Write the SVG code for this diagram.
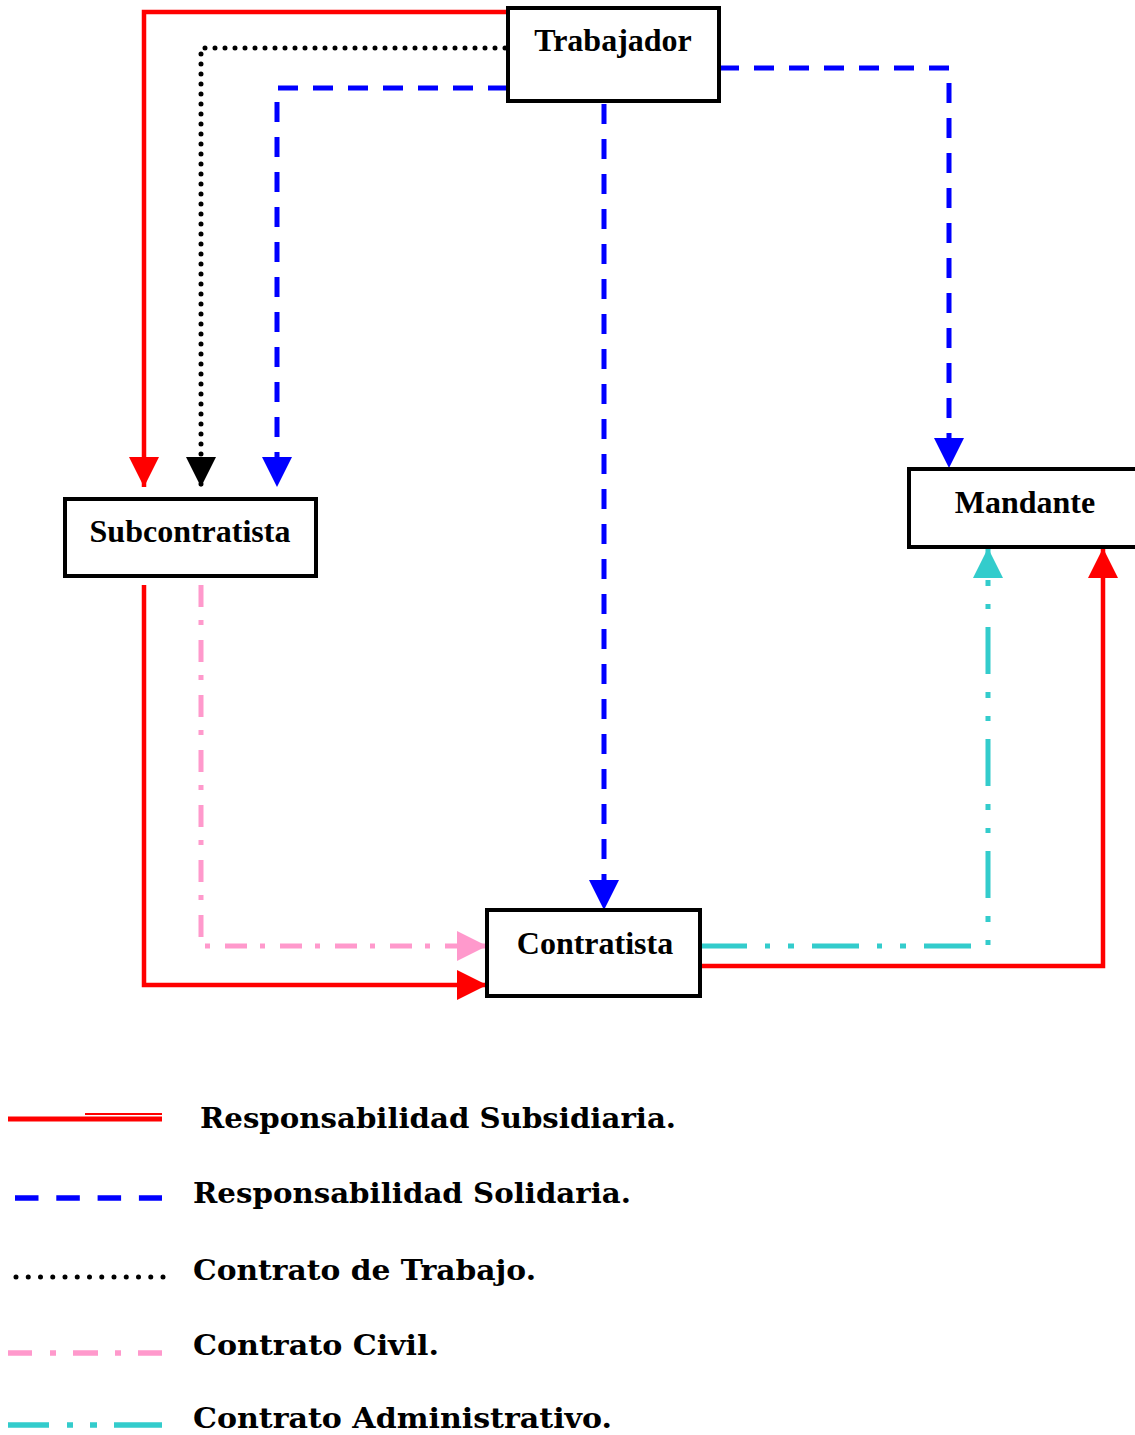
<svg xmlns="http://www.w3.org/2000/svg" width="1135" height="1435" viewBox="0 0 1135 1435">
<style>
.box{fill:#fff;stroke:#000;stroke-width:4}
.lbl{font-family:"Liberation Serif","Times New Roman",serif;font-weight:bold;font-size:32px;fill:#000;text-anchor:middle}
.leg{font-family:"DejaVu Serif","Liberation Serif",serif;font-weight:bold;font-size:27px;fill:#000}
.red{fill:none;stroke:#FF0000;stroke-width:4.5}
.blue{fill:none;stroke:#0000FF;stroke-width:5;stroke-dasharray:20 15}
.dot{fill:none;stroke:#000;stroke-width:5;stroke-linecap:round;stroke-dasharray:0 10}
.pink{fill:none;stroke:#FF99CC;stroke-width:5;stroke-dasharray:22 13 5 15}
.cyan{fill:none;stroke:#33CCCC;stroke-width:5;stroke-dasharray:47 18 5 18 6 18}
</style>
<defs>
<marker id="aRed" markerUnits="userSpaceOnUse" markerWidth="30" markerHeight="30" refX="30" refY="15" orient="auto"><path d="M0,0 L30,15 L0,30 z" fill="#FF0000"/></marker>
<marker id="aBlue" markerUnits="userSpaceOnUse" markerWidth="30" markerHeight="30" refX="30" refY="15" orient="auto"><path d="M0,0 L30,15 L0,30 z" fill="#0000FF"/></marker>
<marker id="aBlack" markerUnits="userSpaceOnUse" markerWidth="30" markerHeight="30" refX="30" refY="15" orient="auto"><path d="M0,0 L30,15 L0,30 z" fill="#000"/></marker>
<marker id="aPink" markerUnits="userSpaceOnUse" markerWidth="30" markerHeight="30" refX="30" refY="15" orient="auto"><path d="M0,0 L30,15 L0,30 z" fill="#FF99CC"/></marker>
<marker id="aCyan" markerUnits="userSpaceOnUse" markerWidth="30" markerHeight="30" refX="30" refY="15" orient="auto"><path d="M0,0 L30,15 L0,30 z" fill="#33CCCC"/></marker>
</defs>
<rect width="1135" height="1435" fill="#fff"/>
<g id="connectors">
<path class="red" d="M508,12 H144 V487" marker-end="url(#aRed)"/>
<path class="dot" d="M505,48 H201 V487" marker-end="url(#aBlack)"/>
<path class="blue" d="M508,88 H277 V487" marker-end="url(#aBlue)"/>
<path class="blue" d="M604,104 V910" marker-end="url(#aBlue)"/>
<path class="blue" d="M719,68 H949 V468" marker-end="url(#aBlue)"/>
<path class="red" d="M144,585 V985 H487" marker-end="url(#aRed)"/>
<path class="pink" d="M201,585 V946 H487" marker-end="url(#aPink)"/>
<path class="cyan" d="M700,946 H988 V548" marker-end="url(#aCyan)"/>
<path class="red" d="M700,966 H1103 V548" marker-end="url(#aRed)"/>
</g>
<g id="trabajador">
<rect class="box" x="508" y="8" width="211" height="93"/>
<text class="lbl" x="613" y="51">Trabajador</text>
</g>
<g id="subcontratista">
<rect class="box" x="65" y="499" width="251" height="77"/>
<text class="lbl" x="190" y="542">Subcontratista</text>
</g>
<g id="mandante">
<rect class="box" x="909" y="469" width="235" height="78"/>
<text class="lbl" x="1025" y="513">Mandante</text>
</g>
<g id="contratista">
<rect class="box" x="487" y="910" width="213" height="86"/>
<text class="lbl" x="595" y="954">Contratista</text>
</g>
<g id="legend">
<line x1="8" y1="1119" x2="162" y2="1119" stroke="#FF0000" stroke-width="5"/>
<line x1="85" y1="1114" x2="162" y2="1114" stroke="#FF0000" stroke-width="2"/>
<text class="leg" x="200" y="1128" textLength="476" lengthAdjust="spacingAndGlyphs">Responsabilidad Subsidiaria.</text>
<line x1="15" y1="1198" x2="162" y2="1198" stroke="#0000FF" stroke-width="5.5" stroke-dasharray="23.5 17.8"/>
<text class="leg" x="193" y="1203" textLength="438" lengthAdjust="spacingAndGlyphs">Responsabilidad Solidaria.</text>
<line x1="16" y1="1277" x2="165" y2="1277" stroke="#000" stroke-width="5" stroke-linecap="round" stroke-dasharray="0 12.25"/>
<text class="leg" x="193" y="1280" textLength="343" lengthAdjust="spacingAndGlyphs">Contrato de Trabajo.</text>
<line x1="8" y1="1353" x2="162" y2="1353" stroke="#FF99CC" stroke-width="5.5" stroke-dasharray="24 18 6 17 25 17 6 17 24"/>
<text class="leg" x="193" y="1355" textLength="246" lengthAdjust="spacingAndGlyphs">Contrato Civil.</text>
<line x1="8" y1="1425" x2="162" y2="1425" stroke="#33CCCC" stroke-width="5.5" stroke-dasharray="41 18 6 17 7 17 48"/>
<text class="leg" x="193" y="1428" textLength="419" lengthAdjust="spacingAndGlyphs">Contrato Administrativo.</text>
</g>
</svg>
